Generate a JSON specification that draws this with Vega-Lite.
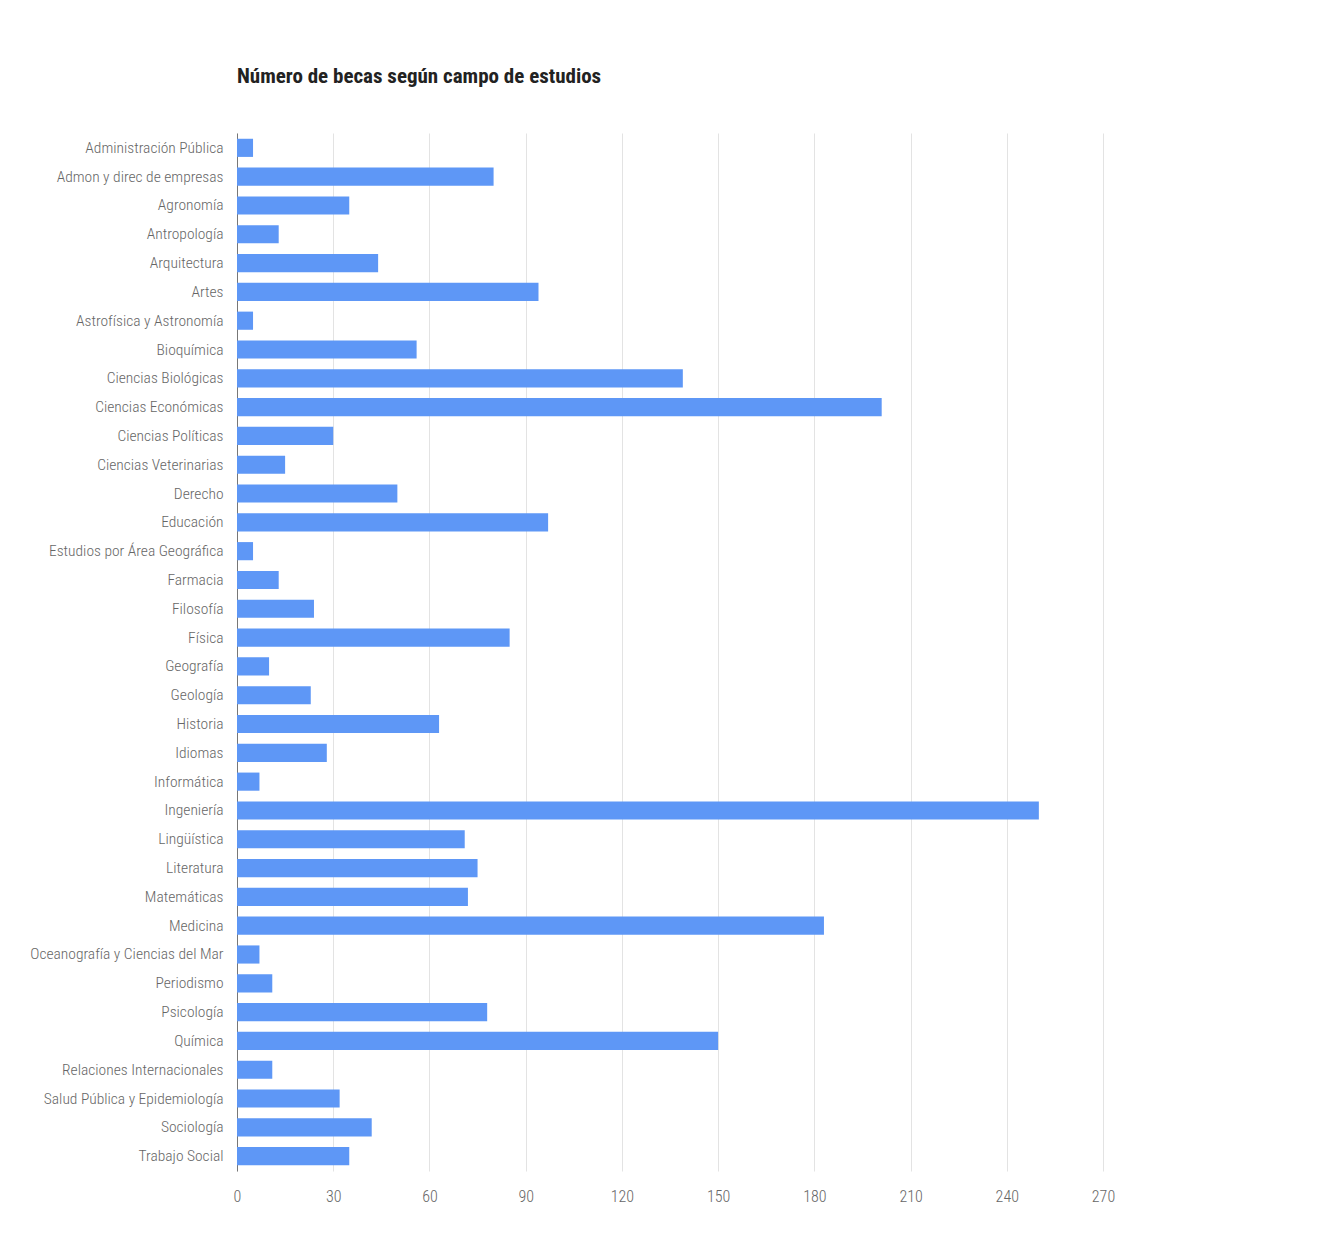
{
  "$schema": "https://vega.github.io/schema/vega-lite/v6.json",
  "width": 866,
  "height": 1038,
  "autosize": {"type": "none"},
  "padding": {"left": 237, "top": 133, "right": 222, "bottom": 62},
  "background": "white",
  "title": {
    "text": "Número de becas según campo de estudios",
    "anchor": "start",
    "frame": "group",
    "font": "Roboto Condensed, Liberation Sans Narrow, DejaVu Sans Condensed, sans-serif",
    "fontSize": 21,
    "fontWeight": "bold",
    "color": "#222222",
    "baseline": "alphabetic",
    "offset": 29
  },
  "data": {
    "values": [
      {"campo": "Administración Pública", "becas": 5},
      {"campo": "Admon y direc de empresas", "becas": 80},
      {"campo": "Agronomía", "becas": 35},
      {"campo": "Antropología", "becas": 13},
      {"campo": "Arquitectura", "becas": 44},
      {"campo": "Artes", "becas": 94},
      {"campo": "Astrofísica y Astronomía", "becas": 5},
      {"campo": "Bioquímica", "becas": 56},
      {"campo": "Ciencias Biológicas", "becas": 139},
      {"campo": "Ciencias Económicas", "becas": 201},
      {"campo": "Ciencias Políticas", "becas": 30},
      {"campo": "Ciencias Veterinarias", "becas": 15},
      {"campo": "Derecho", "becas": 50},
      {"campo": "Educación", "becas": 97},
      {"campo": "Estudios por Área Geográfica", "becas": 5},
      {"campo": "Farmacia", "becas": 13},
      {"campo": "Filosofía", "becas": 24},
      {"campo": "Física", "becas": 85},
      {"campo": "Geografía", "becas": 10},
      {"campo": "Geología", "becas": 23},
      {"campo": "Historia", "becas": 63},
      {"campo": "Idiomas", "becas": 28},
      {"campo": "Informática", "becas": 7},
      {"campo": "Ingeniería", "becas": 250},
      {"campo": "Lingüística", "becas": 71},
      {"campo": "Literatura", "becas": 75},
      {"campo": "Matemáticas", "becas": 72},
      {"campo": "Medicina", "becas": 183},
      {"campo": "Oceanografía y Ciencias del Mar", "becas": 7},
      {"campo": "Periodismo", "becas": 11},
      {"campo": "Psicología", "becas": 78},
      {"campo": "Química", "becas": 150},
      {"campo": "Relaciones Internacionales", "becas": 11},
      {"campo": "Salud Pública y Epidemiología", "becas": 32},
      {"campo": "Sociología", "becas": 42},
      {"campo": "Trabajo Social", "becas": 35}
    ]
  },
  "mark": {"type": "bar", "color": "#5e97f6"},
  "encoding": {
    "y": {
      "field": "campo",
      "type": "nominal",
      "sort": null,
      "title": null,
      "scale": {"paddingInner": 0.37, "paddingOuter": 0.2},
      "axis": {
        "domain": true,
        "domainColor": "#777777",
        "domainWidth": 1,
        "ticks": false,
        "labelPadding": 14,
        "labelFont": "Roboto Condensed, Liberation Sans Narrow, DejaVu Sans Condensed, sans-serif",
        "labelFontSize": 15.5,
        "labelFontWeight": 300,
        "labelColor": "#666666",
        "labelLimit": 300
      }
    },
    "x": {
      "field": "becas",
      "type": "quantitative",
      "title": null,
      "scale": {"domain": [0, 270], "nice": false},
      "axis": {
        "values": [0, 30, 60, 90, 120, 150, 180, 210, 240, 270],
        "domain": false,
        "ticks": false,
        "grid": true,
        "gridColor": "#e3e3e3",
        "gridWidth": 1,
        "labelFlush": false,
        "labelPadding": 17,
        "labelFont": "Roboto Condensed, Liberation Sans Narrow, DejaVu Sans Condensed, sans-serif",
        "labelFontSize": 16,
        "labelFontWeight": 300,
        "labelColor": "#666666"
      }
    }
  },
  "config": {"view": {"stroke": null}}
}
